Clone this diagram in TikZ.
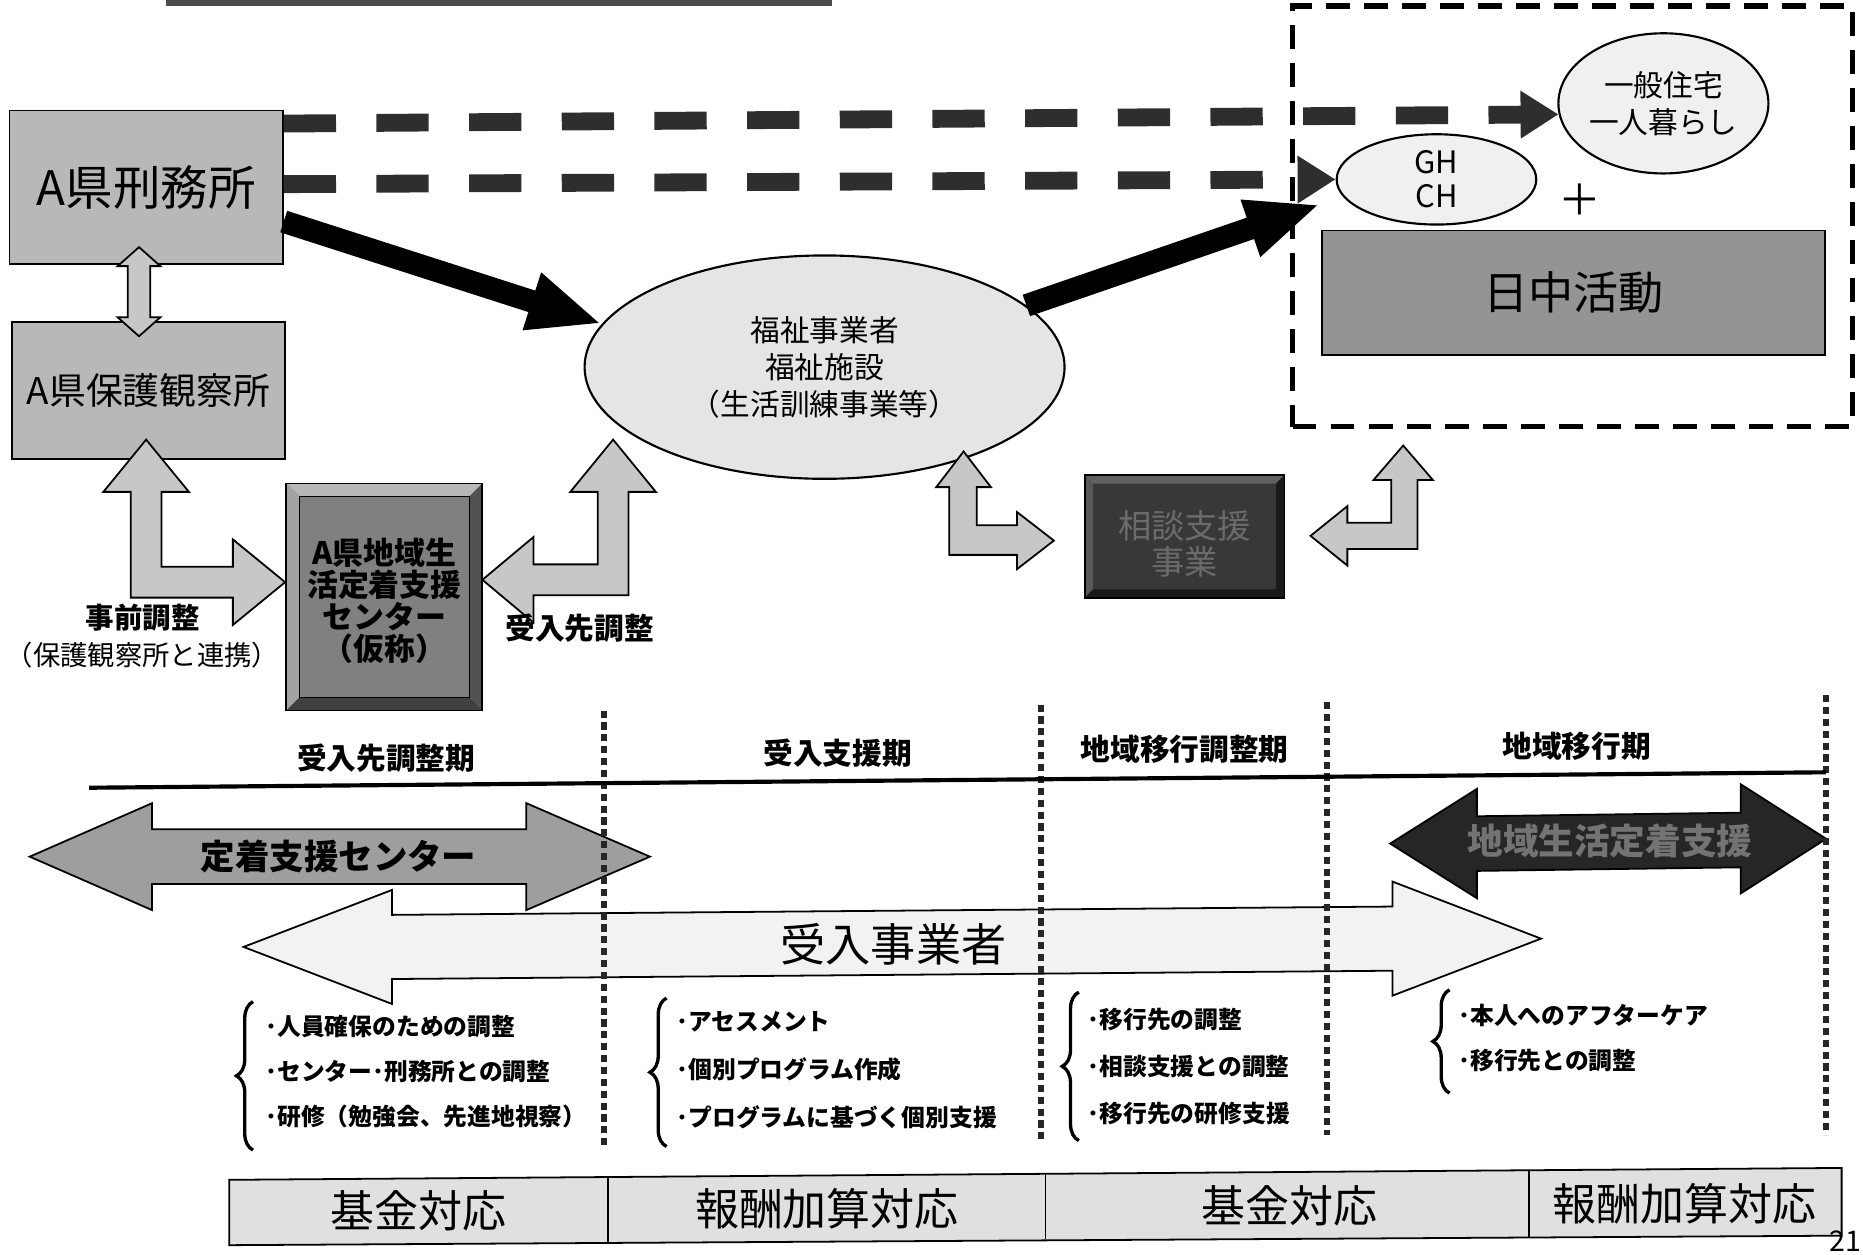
\documentclass[tikz,border=0pt]{standalone}
\usepackage{fontspec}
\setmainfont{Noto Sans CJK JP}
\usetikzlibrary{arrows.meta,shapes.geometric,decorations.pathreplacing}
\newcommand\fsz[2]{\fontsize{#1}{#2}\selectfont}
\tikzset{
  grayboxstyle/.style={draw=black, line width=1.6pt, inner sep=0pt, align=center},
  ovalstyle/.style={ellipse, draw=black, line width=1.8pt, inner sep=0pt, align=center},
  blockarrow/.style={draw=black, line width=1.5pt, line join=miter},
  dasharrow/.style={line width=15pt, draw=black!82, dash pattern=on 44pt off 34pt, -{Triangle[length=32pt,width=38pt]}},
  solidarrow/.style={line width=19pt, draw=black, -{Triangle[length=62pt,width=46pt]}},
  timeline/.style={line width=5pt, draw=black!85, dash pattern=on 6pt off 4pt},
  periodlabel/.style={font=\bfseries\fsz{25}{30}},
  itemtext/.style={anchor=west, font=\bfseries\fsz{20}{24}},
  bracestyle/.style={decorate, decoration={brace, amplitude=14pt}, line width=2.8pt},
  fundtext/.style={font=\fsz{37}{44}},
}
\begin{document}
\begin{tikzpicture}[x=1pt,y=-1pt]
\useasboundingbox (0,0) rectangle (1568,1056);
\clip (0,0) rectangle (1568,1056);
\fill[black!70] (140,0) rectangle (700,5);

% right dashed region
\node[draw=black, line width=4.5pt, dash pattern=on 20pt off 12pt, minimum width=471pt, minimum height=354pt, inner sep=0pt] (region) at (1323.5,182) {};
\node[ovalstyle, fill=black!6, minimum width=168pt, minimum height=118pt, font=\fsz{25}{31}] (house) at (1400,87) {一般住宅\\一人暮らし};
\node[ovalstyle, fill=black!6, minimum width=168pt, minimum height=76pt, font=\fsz{26}{29}] (gh) at (1209,151) {GH\\CH};
\node[font=\fsz{36}{40}] (plus) at (1330,168) {＋};
\node[grayboxstyle, fill=black!42, minimum width=423pt, minimum height=105pt, font=\fsz{38}{44}] (daytime) at (1324.5,246.5) {日中活動};

% left boxes and ellipse
\node[grayboxstyle, fill=black!28, minimum width=230pt, minimum height=129pt, font=\fsz{40}{48}] (prison) at (123,157.5) {A県刑務所};
\node[grayboxstyle, fill=black!28, minimum width=230pt, minimum height=115pt, font=\fsz{31}{37}] (probation) at (125,328.5) {A県保護観察所};
\node[ovalstyle, fill=black!10, minimum width=404pt, minimum height=188pt, font=\fsz{25}{31}] (welfare) at (694,309) {福祉事業者\\福祉施設\\（生活訓練事業等）};

% dashed arrows
\draw[dasharrow] ([yshift=53.5pt]prison.east) -- (house.186);
\draw[dasharrow] ([yshift=2.5pt]prison.east) -- (gh.west);

% solid black arrows
\draw[solidarrow] ([yshift=-29pt]prison.east) -- (welfare.169);
\coordinate (tip2) at (1111,172);
\draw[solidarrow] (welfare.17) -- (tip2);

% vertical double arrow
\draw[blockarrow, fill=black!22] (117,208) -- (135,224) -- (126.5,224) -- (126.5,267) -- (135,267) -- (117,283) -- (99,267) -- (107.5,267) -- (107.5,224) -- (99,224) -- cycle;

% L arrows
\draw[blockarrow, fill=black!22] (123,370) -- (159,414) -- (136,414) -- (136,477) -- (196,477) -- (196,454) -- (240,490) -- (196,526) -- (196,503) -- (110,503) -- (110,414) -- (87,414) -- cycle;
\draw[blockarrow, fill=black!22] (406,488) -- (449,452) -- (449,475) -- (503,475) -- (503,414) -- (480,414) -- (516,370) -- (552,414) -- (529,414) -- (529,501) -- (449,501) -- (449,524) -- cycle;
\draw[blockarrow, fill=black!22] (811,380) -- (834,410) -- (822,410) -- (822,442) -- (856,442) -- (856,431) -- (887,455) -- (856,479) -- (856,467) -- (799,467) -- (799,410) -- (788,410) -- cycle;
\draw[blockarrow, fill=black!22] (1181,375) -- (1206,404) -- (1193,404) -- (1193,462) -- (1134,462) -- (1134,476) -- (1103,451) -- (1134,426) -- (1134,440) -- (1171,440) -- (1171,404) -- (1156,404) -- cycle;

% labels
\node[font=\bfseries\fsz{24}{28}] (precoord) at (120,520) {事前調整};
\node[font=\fsz{23}{28}] (precoordsub) at (120,551) {（保護観察所と連携）};
\node[font=\bfseries\fsz{25}{30}] (acceptcoord) at (488,529) {受入先調整};

% center box with bevel
\node[draw=black, line width=1.5pt, fill=black!50, minimum width=165pt, minimum height=191pt, inner sep=0pt] (center) at (323.5,502.5) {};
\fill[black!28] (241,407) -- (406,407) -- (395,418) -- (252,418) -- cycle;
\fill[black!36] (241,407) -- (252,418) -- (252,587) -- (241,598) -- cycle;
\fill[black!68] (406,407) -- (406,598) -- (395,587) -- (395,418) -- cycle;
\fill[black!75] (241,598) -- (406,598) -- (395,587) -- (252,587) -- cycle;
\draw[line width=1.5pt] (241,407) rectangle (406,598);
\draw[line width=0.8pt] (252,418) rectangle (395,587);
\node[font=\bfseries\fsz{26}{27}, align=center] (centertext) at (323.5,506) {A県地域生\\活定着支援\\センター\\（仮称）};

% consult box with bevel
\node[draw=black, line width=1.5pt, fill=black!78, minimum width=168pt, minimum height=103pt, inner sep=0pt] (consult) at (997,451.5) {};
\fill[black!62] (913,400) -- (1081,400) -- (1074,407) -- (920,407) -- cycle;
\fill[black!66] (913,400) -- (920,407) -- (920,496) -- (913,503) -- cycle;
\fill[black!90] (1081,400) -- (1081,503) -- (1074,496) -- (1074,407) -- cycle;
\fill[black!90] (913,503) -- (1081,503) -- (1074,496) -- (920,496) -- cycle;
\draw[line width=1.5pt] (913,400) rectangle (1081,503);
\node[text=black!58, font=\fsz{28}{30}, align=center] (consulttext) at (997,458) {相談支援\\事業};

% timeline arrows
\draw[blockarrow, fill=black!38] (25,721) -- (128,676) -- (128,698) -- (443,698) -- (443,676) -- (547,721) -- (443,766) -- (443,744) -- (128,744) -- (128,766) -- cycle;
\node[font=\bfseries\fsz{29}{34}] (centerarrowtext) at (285,721) {定着支援センター};
\draw[blockarrow, fill=black!5] (205,797) -- (330,749) -- (330,770) -- (1172,763) -- (1172,742) -- (1297,790) -- (1172,838) -- (1172,817) -- (330,824) -- (330,845) -- cycle;
\draw[blockarrow, fill=black!85] (1170,710) -- (1243,664) -- (1243,687) -- (1465,684) -- (1465,660) -- (1537,706) -- (1465,752) -- (1465,730) -- (1243,733) -- (1243,756) -- cycle;
\node[text=black!55, font=\bfseries\fsz{30}{34}] (darkarrowtext) at (1355,708) {地域生活定着支援};

% timeline
\draw[timeline] (508,598) -- (508,965);
\draw[timeline] (876,593) -- (876,960);
\draw[timeline] (1117,591) -- (1117,955);
\draw[timeline] (1537,585) -- (1537,955);
\draw[line width=3.5pt] (75,663) -- (1537,650);
\node[font=\fsz{38}{44}] (bizarrowtext) at (752,795) {受入事業者};

\node[periodlabel] (p1) at (325,638) {受入先調整期};
\node[periodlabel] (p2) at (705,634) {受入支援期};
\node[periodlabel] (p3) at (997,631) {地域移行調整期};
\node[periodlabel] (p4) at (1327,628) {地域移行期};

% braces and items
\draw[bracestyle] (213,968) -- (213,843);
\draw[bracestyle] (561,965) -- (561,840);
\draw[bracestyle] (908,960) -- (908,835);
\draw[bracestyle] (1220,920) -- (1220,833);

\node[itemtext] (a1) at (220,864) {･人員確保のための調整};
\node[itemtext] (a2) at (220,902) {･センター･刑務所との調整};
\node[itemtext] (a3) at (220,940) {･研修（勉強会、先進地視察）};
\node[itemtext] (b1) at (566,860) {･アセスメント};
\node[itemtext] (b2) at (566,900) {･個別プログラム作成};
\node[itemtext] (b3) at (566,940) {･プログラムに基づく個別支援};
\node[itemtext] (c1) at (912,858) {･移行先の調整};
\node[itemtext] (c2) at (912,898) {･相談支援との調整};
\node[itemtext] (c3) at (912,937) {･移行先の研修支援};
\node[itemtext] (d1) at (1224,855) {･本人へのアフターケア};
\node[itemtext] (d2) at (1224,893) {･移行先との調整};

% bottom funding boxes
\draw[line width=1.5pt, fill=black!12] (193,993) -- (1550,983) -- (1550,1040) -- (193,1048) -- cycle;
\draw[line width=1.5pt] (512,991) -- (512,1046);
\draw[line width=1.5pt] (880,988) -- (880,1043);
\draw[line width=1.5pt] (1287,985) -- (1287,1041);
\node[fundtext] (f1) at (352,1019) {基金対応};
\node[fundtext] (f2) at (696,1017) {報酬加算対応};
\node[fundtext] (f3) at (1085,1015) {基金対応};
\node[fundtext] (f4) at (1418,1013) {報酬加算対応};
\node[anchor=base east, inner sep=0pt, font=\fsz{24}{28}] (pagenum) at (1567,1053) {21};
\end{tikzpicture}
\end{document}
